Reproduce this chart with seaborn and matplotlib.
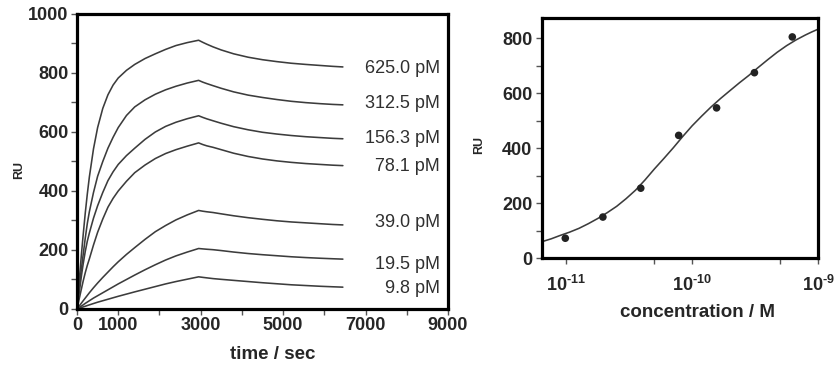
import numpy as np
import pandas as pd
import matplotlib
matplotlib.use("Agg")
import matplotlib.pyplot as plt
import seaborn as sns
from matplotlib.ticker import FixedLocator, NullFormatter

# ---------------- data ----------------
conc_labels = ["625.0 pM", "312.5 pM", "156.3 pM", "78.1 pM", "39.0 pM", "19.5 pM", "9.8 pM"]
times = [0, 40, 75, 110, 150, 200, 250, 300, 400, 500, 625, 750, 875, 1000, 1200, 1400,
         1650, 1900, 2150, 2400, 2675, 2950,
         3050, 3150, 3300, 3500, 3800, 4150, 4500, 4850, 5200, 5550, 5900, 6200, 6450]
ru_625 = [0, 72, 132, 190, 252, 325, 390, 448, 543, 615, 680, 726, 759, 783, 809, 829,
          849, 865, 880, 893, 903, 911,
          904, 897.5, 888.5, 878, 865, 853.5, 845, 838.5, 833, 829, 825.5, 822.5, 820.5]
ru_312 = [0, 55, 100, 140, 185, 240, 290, 330, 395, 450, 500, 545, 582, 615, 656, 685,
          709, 728, 743, 755, 766, 775,
          769, 764, 757, 748, 736, 725, 717, 710, 704, 699.5, 696, 693.5, 692]
ru_156 = [0, 42, 78, 115, 153, 195, 230, 258, 308, 350, 395, 435, 465, 490, 520, 545,
          575, 600, 619, 633, 645, 655,
          649.5, 644.5, 638, 629.5, 618, 607.5, 599, 593, 588, 584, 581, 578.5, 577]
ru_78 = [0, 26, 48, 70, 95, 123, 148, 170, 217, 260, 305, 345, 375, 400, 433, 462,
         488, 510, 527, 540, 552, 563,
         557.5, 553, 548, 540, 528, 517, 508.5, 502, 497, 493, 490, 487.5, 486]
ru_39 = [0, 7.5, 14, 20.5, 28, 37, 46, 55, 72, 88, 107, 125, 143, 160, 185, 208,
         236, 262, 283, 302, 319, 334,
         331.5, 329.5, 327, 322.5, 316, 309.5, 304, 299, 295, 292, 289, 286.5, 285]
ru_19 = [0, 3.7, 7, 10.3, 14, 19, 23.5, 28, 37, 45, 55, 65, 75, 85, 100, 115,
         133, 150, 166, 180, 193, 205,
         203.7, 202.5, 201, 198, 193, 188, 184, 180.5, 177, 174.3, 172, 170.3, 169]
ru_9 = [0, 1.9, 3.5, 5.2, 7, 9.3, 11.7, 14, 18.5, 23, 28, 33, 38, 43, 50.5, 58,
        67, 76, 85, 93, 101, 109,
        107.2, 105.5, 103, 100.5, 97, 93, 89, 85.5, 82, 79.5, 77, 75.3, 74]

point_conc = [9.8e-12, 19.5e-12, 39.0e-12, 78.1e-12, 156.3e-12, 312.5e-12, 625e-12]
point_ru = [73, 150, 255, 447, 547, 675, 805]

fit_conc = [6.46e-12, 7.59e-12, 8.91e-12, 1.059e-11, 1.26e-11, 1.496e-11, 1.78e-11, 2.113e-11,
            2.51e-11, 2.985e-11, 3.55e-11, 4.217e-11, 5.01e-11, 5.957e-11, 7.08e-11, 8.414e-11,
            1.0e-10, 1.189e-10, 1.41e-10, 1.679e-10, 2.0e-10, 2.371e-10, 2.82e-10, 3.35e-10,
            3.98e-10, 4.732e-10, 5.62e-10, 6.683e-10, 7.94e-10, 8.913e-10, 1.0e-9]
fit_ru = [61, 71, 83, 95, 109, 126, 145, 166,
          189, 217, 248, 285, 325, 363, 402, 443,
          482, 517, 550, 581, 610, 638, 665, 694,
          722, 749, 773, 794, 812, 823, 833]

left_xticks = [0, 1000, 2000, 3000, 4000, 5000, 6000, 7000, 8000, 9000]
left_xticklabels = ["0", "1000", "", "3000", "", "5000", "", "7000", "", "9000"]
left_yticks = [0, 100, 200, 300, 400, 500, 600, 700, 800, 900, 1000]
left_yticklabels = ["0", "", "200", "", "400", "", "600", "", "800", "", "1000"]
right_yticks = [0, 100, 200, 300, 400, 500, 600, 700, 800]
right_yticklabels = ["0", "", "200", "", "400", "", "600", "", "800"]
right_xticks = [1e-11, 1e-10, 1e-9]
right_xticklabels = [r"$\mathbf{10^{\text{-}11}}$", r"$\mathbf{10^{\text{-}10}}$", r"$\mathbf{10^{\text{-}9}}$"]
right_minor = [5e-11, 5e-10]

# label placement (layout only)
label_x = 8800
label_y = [814, 696, 578, 483, 294, 152, 71]

# ---------------- style ----------------
sns.set_style("ticks")
plt.rcParams["font.family"] = ["Liberation Sans", "DejaVu Sans"]
plt.rcParams["mathtext.fontset"] = "custom"
plt.rcParams["mathtext.rm"] = "Liberation Sans:bold"
plt.rcParams["mathtext.bf"] = "Liberation Sans:bold"
plt.rcParams["mathtext.it"] = "Liberation Sans:bold"

line_color = "#3c3c3c"

fig = plt.figure(figsize=(8.38, 3.70), dpi=100)
ax1 = fig.add_axes([0.0919, 0.1649, 0.4427, 0.7973])
ax2 = fig.add_axes([0.6468, 0.3019, 0.3293, 0.6503])

# ---------------- left: sensorgrams ----------------
series = [ru_625, ru_312, ru_156, ru_78, ru_39, ru_19, ru_9]
rows = []
for lab, vals in zip(conc_labels, series):
    for t, v in zip(times, vals):
        rows.append({"time": t, "RU": v, "conc": lab})
df = pd.DataFrame(rows)
sns.lineplot(data=df, x="time", y="RU", units="conc", estimator=None,
             color=line_color, linewidth=1.15, sort=False, ax=ax1)
for lab, yv in zip(conc_labels, label_y):
    ax1.text(label_x, yv, lab, ha="right", va="center", fontsize=13, color="#303030")

ax1.set_xlim(0, 9000)
ax1.set_ylim(0, 1000)
ax1.set_xticks(left_xticks)
ax1.set_xticklabels(left_xticklabels, fontweight="bold", fontsize=13)
ax1.set_yticks(left_yticks)
ax1.set_yticklabels(left_yticklabels, fontweight="bold", fontsize=13)
ax1.tick_params(direction="out", length=4, width=1, color="#555555", pad=2)
ax1.set_xlabel("time / sec", fontweight="bold", fontsize=13.5)
ax1.set_ylabel("RU", fontweight="bold", fontsize=9)
ax1.xaxis.set_label_coords(0.527, -0.125)
ax1.yaxis.set_label_coords(-0.14, 0.47)

# ---------------- right: binding isotherm ----------------
fit_df = pd.DataFrame({"conc": fit_conc, "RU": fit_ru})
pt_df = pd.DataFrame({"conc": point_conc, "RU": point_ru})
sns.lineplot(data=fit_df, x="conc", y="RU", color=line_color, linewidth=1.15, ax=ax2)
sns.scatterplot(data=pt_df, x="conc", y="RU", color="#222222", s=30, edgecolor="none", ax=ax2, zorder=3)
ax2.set_xscale("log")
ax2.set_xlim(6.4e-12, 1.0e-9)
ax2.set_ylim(0, 875)
ax2.set_xticks(right_xticks)
ax2.set_xticklabels(right_xticklabels, fontsize=13)
ax2.xaxis.set_minor_locator(FixedLocator(right_minor))
ax2.xaxis.set_minor_formatter(NullFormatter())
ax2.set_yticks(right_yticks)
ax2.set_yticklabels(right_yticklabels, fontweight="bold", fontsize=13)
ax2.tick_params(which="both", direction="out", length=4, width=1, color="#555555")
ax2.tick_params(axis="y", pad=3)
ax2.tick_params(axis="x", which="major", pad=8)
ax2.set_xlabel("concentration / M", fontweight="bold", fontsize=13.5)
ax2.set_ylabel("RU", fontweight="bold", fontsize=9)
ax2.xaxis.set_label_coords(0.563, -0.19)
ax2.yaxis.set_label_coords(-0.207, 0.47)

for ax in (ax1, ax2):
    for sp in ax.spines.values():
        sp.set_visible(True)
        sp.set_linewidth(2.3)
        sp.set_color("black")
    ax.set_facecolor("white")

fig.savefig("out.png", dpi=100, facecolor="white")
